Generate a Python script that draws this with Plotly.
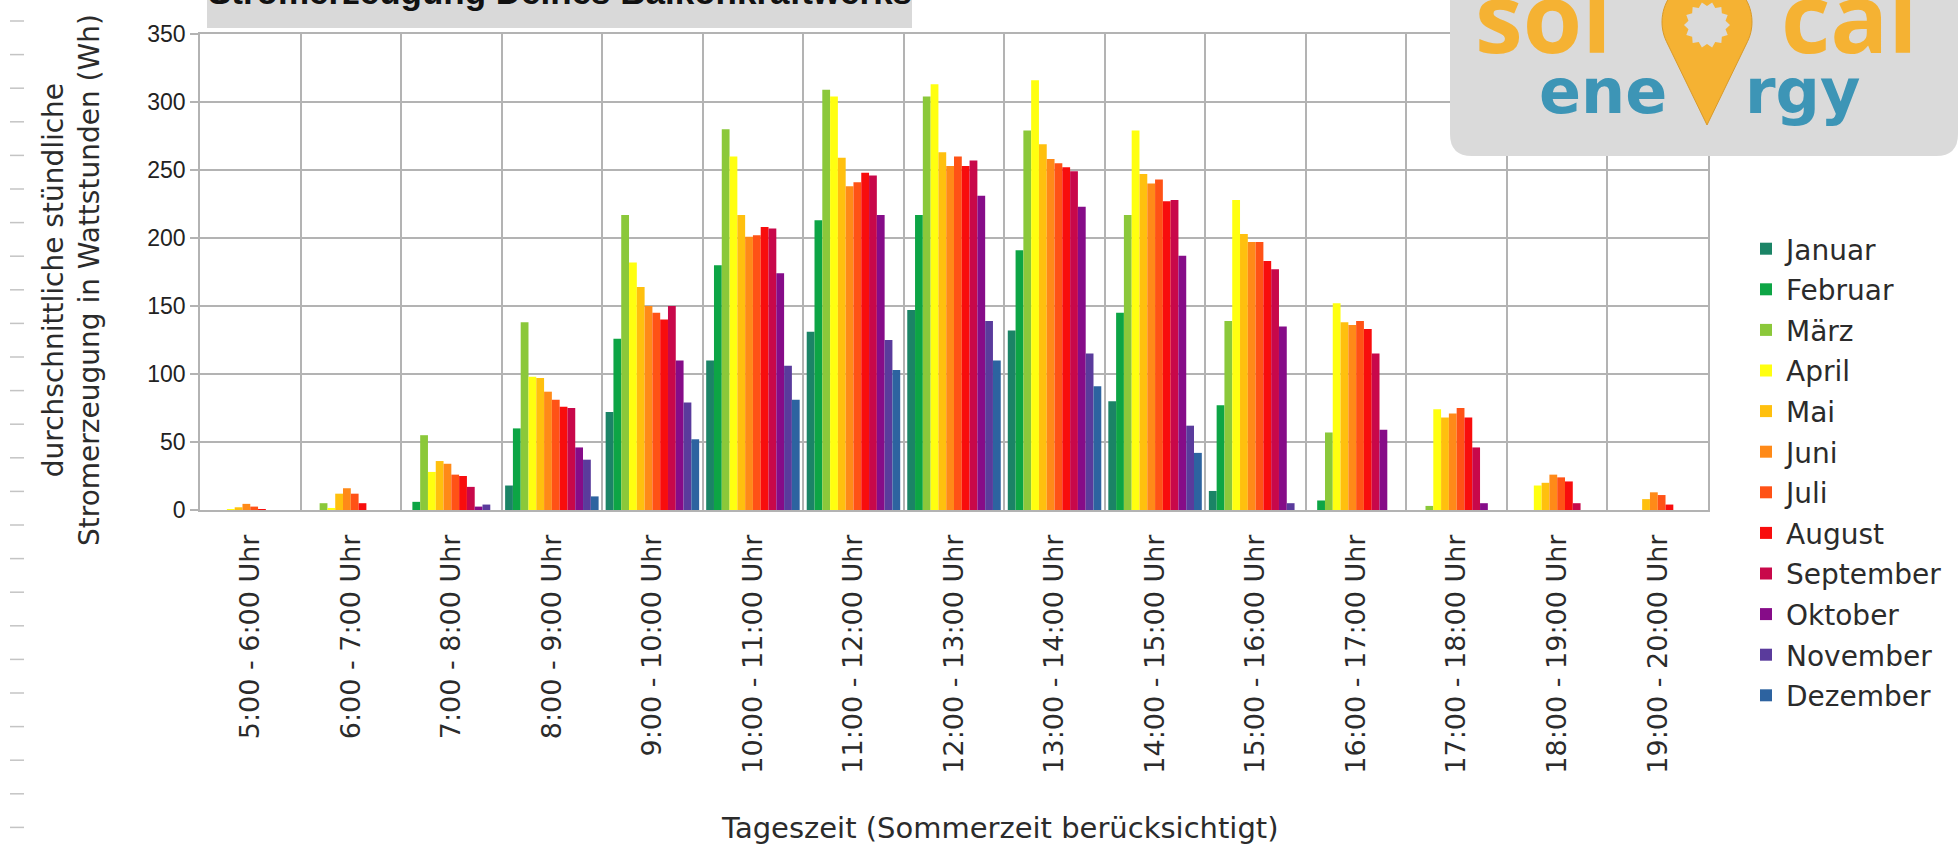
import numpy as np
import plotly.graph_objects as go

# Hour slots (summer time)
hours = [
    "5:00 - 6:00 Uhr", "6:00 - 7:00 Uhr", "7:00 - 8:00 Uhr", "8:00 - 9:00 Uhr",
    "9:00 - 10:00 Uhr", "10:00 - 11:00 Uhr", "11:00 - 12:00 Uhr", "12:00 - 13:00 Uhr",
    "13:00 - 14:00 Uhr", "14:00 - 15:00 Uhr", "15:00 - 16:00 Uhr", "16:00 - 17:00 Uhr",
    "17:00 - 18:00 Uhr", "18:00 - 19:00 Uhr", "19:00 - 20:00 Uhr",
]

months = ["Januar", "Februar", "März", "April", "Mai", "Juni", "Juli",
          "August", "September", "Oktober", "November", "Dezember"]

# Average hourly yield in Wh, one list per month
januar    = [0, 0, 0, 18, 72, 110, 131, 147, 132, 80, 14, 0, 0, 0, 0]
februar   = [0, 0, 6, 60, 126, 180, 213, 217, 191, 145, 77, 7, 0, 0, 0]
maerz     = [0, 5, 55, 138, 217, 280, 309, 304, 279, 217, 139, 57, 3, 0, 0]
april     = [0.5, 1.5, 28, 98, 182, 260, 304, 313, 316, 279, 228, 152, 74, 18, 0]
mai       = [2, 12, 36, 97, 164, 217, 259, 263, 269, 247, 203, 138, 68, 20, 8]
juni      = [4.5, 16, 34, 87, 150, 201, 238, 253, 258, 240, 197, 136, 71, 26, 13]
juli      = [2.5, 12, 26, 81, 145, 202, 241, 260, 255, 243, 197, 139, 75, 24, 11]
august    = [0.5, 5, 25, 76, 140, 208, 248, 253, 252, 227, 183, 133, 68, 21, 4]
september = [0, 0, 17, 75, 150, 207, 246, 257, 249, 228, 177, 115, 46, 5, 0]
oktober   = [0, 0, 2.5, 46, 110, 174, 217, 231, 223, 187, 135, 59, 5, 0, 0]
november  = [0, 0, 4, 37, 79, 106, 125, 139, 115, 62, 5, 0, 0, 0, 0]
dezember  = [0, 0, 0, 10, 52, 81, 103, 110, 91, 42, 0, 0, 0, 0, 0]

series = [januar, februar, maerz, april, mai, juni, juli,
          august, september, oktober, november, dezember]

colors = ["#1b8466", "#0da545", "#8bc83a", "#ffff10", "#ffc00e", "#ff8a18",
          "#ff5216", "#f80d0d", "#c8084a", "#860c88", "#5a3b9c", "#2d63a0"]

y_ticks = [0, 50, 100, 150, 200, 250, 300, 350]

# Figure geometry (pixels). The plotting region reaches down to GB so the
# legend has room; the value axis itself ends at AXIS_B.
FIG_W, FIG_H = 1960, 851
L, R, T, GB = 200, 1708, 34, 845
AXIS_B = 510
PW, PH = R - L, GB - T


def px(x):
    return (x - L) / PW


def py(y):
    return (GB - y) / PH


GRID = "#b3b3b3"
TXT = "#2b2b2b"
FONT = "DejaVu Sans"

fig = go.Figure()
for name, vals, col in zip(months, series, colors):
    fig.add_trace(go.Bar(x=hours, y=vals, name=name, legendgroup=name,
                         marker=dict(color=col, line=dict(width=0))))

shapes = []

# light ruler dashes along the left edge
for k in range(25):
    yy = 21 + 33.6 * k
    shapes.append(dict(type="line", xref="paper", yref="paper",
                       x0=px(10), x1=px(24), y0=py(yy), y1=py(yy),
                       line=dict(color="#c4c4c4", width=1.5)))

# title background box
shapes.append(dict(type="rect", xref="paper", yref="paper",
                   x0=px(207), x1=px(912), y0=py(28), y1=py(-30),
                   fillcolor="#d9d9d9", line=dict(width=0)))

# logo card with rounded bottom corners
rr = 22
card = (f"M {px(1450)},{py(-30)} L {px(1450)},{py(156 - rr)} "
        f"Q {px(1450)},{py(156)} {px(1450 + rr)},{py(156)} "
        f"L {px(1958 - rr)},{py(156)} Q {px(1958)},{py(156)} {px(1958)},{py(156 - rr)} "
        f"L {px(1958)},{py(-30)} Z")
shapes.append(dict(type="path", xref="paper", yref="paper", path=card,
                   fillcolor="#dadada", line=dict(width=0)))

# location pin of the logo
cx, cy, r, tip = 1707, 22, 45, 125
d = tip - cy
th = np.degrees(np.arccos(r / d))
ang = np.radians(np.linspace(90 - th, 90 + th - 360, 60))
pts = [(cx + r * np.cos(a), cy + r * np.sin(a)) for a in ang]
pin = "M " + " L ".join(f"{px(x)},{py(y)}" for x, y in pts) + f" L {px(cx)},{py(tip)} Z"
shapes.append(dict(type="path", xref="paper", yref="paper", path=pin,
                   fillcolor="#f5b233", line=dict(color="#d99a2a", width=1)))

# sun inside the pin
sx, sy = 1707, 25
n = 14
sun_pts = []
for i in range(2 * n):
    a = np.pi * i / n
    rad = 23 if i % 2 == 0 else 19
    sun_pts.append((sx + rad * np.cos(a), sy + rad * np.sin(a)))
sun = "M " + " L ".join(f"{px(x)},{py(y)}" for x, y in sun_pts) + " Z"
shapes.append(dict(type="path", xref="paper", yref="paper", path=sun,
                   fillcolor="#dadada", line=dict(width=0)))

annotations = [
    dict(text="Stromerzeugung Deines Balkonkraftwerks", xref="paper", yref="paper",
         x=px(560), y=py(4 - 0.3465 * 35), xanchor="center", yanchor="middle",
         showarrow=False, font=dict(family="Liberation Sans", size=35, color="#111", weight=700)),
    dict(text="durchschnittliche stündliche<br>Stromerzeugung in Wattstunden (Wh)",
         xref="paper", yref="paper", x=px(71), y=py(280), xanchor="center", yanchor="middle",
         textangle=-90, showarrow=False, font=dict(family=FONT, size=28, color=TXT)),
    dict(text="Tageszeit (Sommerzeit berücksichtigt)", xref="paper", yref="paper",
         x=px(1000), y=py(828), xanchor="center", yanchor="middle", showarrow=False,
         font=dict(family=FONT, size=29, color=TXT)),
    dict(text="sol", xref="paper", yref="paper", x=px(1543), y=py(53 - 0.388 * 96),
         xanchor="center", yanchor="middle", showarrow=False,
         font=dict(family="Open Sans", size=96, color="#f5b233", weight=700)),
    dict(text="cal", xref="paper", yref="paper", x=px(1849), y=py(53 - 0.388 * 96),
         xanchor="center", yanchor="middle", showarrow=False,
         font=dict(family="Open Sans", size=96, color="#f5b233", weight=700)),
    dict(text="ene", xref="paper", yref="paper", x=px(1603), y=py(113 - 0.346 * 62),
         xanchor="center", yanchor="middle", showarrow=False,
         font=dict(family=FONT, size=62, color="#3d95b6", weight=700)),
    dict(text="rgy", xref="paper", yref="paper", x=px(1803), y=py(113 - 0.346 * 62),
         xanchor="center", yanchor="middle", showarrow=False,
         font=dict(family=FONT, size=62, color="#3d95b6", weight=700)),
]

fig.update_layout(
    width=FIG_W, height=FIG_H,
    margin=dict(l=L, r=FIG_W - R, t=T, b=FIG_H - GB, pad=0, autoexpand=False),
    paper_bgcolor="white", plot_bgcolor="white",
    barmode="group", bargap=0.07, bargroupgap=0,
    showlegend=True,
    legend=dict(x=px(1746), y=py(224), xanchor="left", yanchor="top",
                font=dict(family=FONT, size=28, color=TXT), tracegroupgap=1.2,
                bgcolor="rgba(0,0,0,0)", borderwidth=0, itemclick=False),
    xaxis=dict(type="category", tickson="boundaries", showgrid=True,
               gridcolor=GRID, gridwidth=1.5, showline=True, mirror=True,
               linecolor=GRID, linewidth=1.5, ticks="", tickangle=-90,
               ticklabelstandoff=12,
               tickfont=dict(family=FONT, size=27, color=TXT), automargin=False),
    yaxis=dict(domain=[py(AXIS_B), 1], range=[0, 350], tickvals=y_ticks,
               showgrid=True, gridcolor=GRID,
               gridwidth=1.5, zeroline=False, showline=True, mirror=True,
               linecolor=GRID, linewidth=1.5, ticks="outside", ticklen=8,
               tickcolor=GRID, tickwidth=1.5,
               tickfont=dict(family="Liberation Sans", size=23, color="#222"),
               automargin=False),
    shapes=shapes, annotations=annotations,
)

fig.write_html("out.html")
